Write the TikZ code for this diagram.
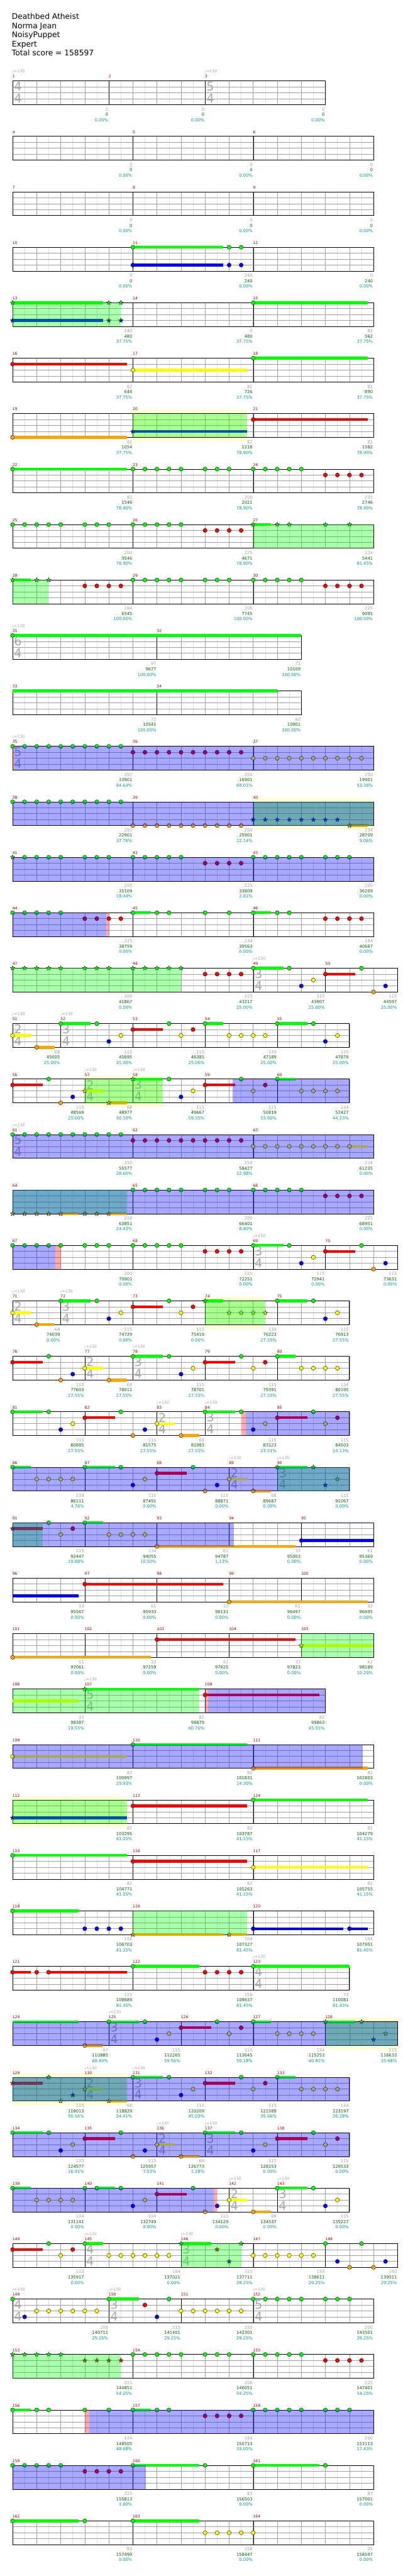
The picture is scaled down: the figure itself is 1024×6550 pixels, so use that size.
\documentclass[tikz,border=0pt]{standalone}
\usepackage{fontspec}
\setmainfont{DejaVu Sans}
\usepackage{tikz}
\usetikzlibrary{positioning}
\definecolor{mred}{HTML}{990000}
\definecolor{lblgray}{HTML}{A0A0A0}
\definecolor{totgreen}{HTML}{006400}
\definecolor{pctteal}{HTML}{009999}
\definecolor{gridlight}{HTML}{E0E0E0}
\definecolor{gridmid}{HTML}{A0A0A0}
\definecolor{tsgray}{HTML}{A8A8A8}
\definecolor{bandyellow}{HTML}{FFFFD4}
\definecolor{spgreen}{HTML}{00FF00}
\definecolor{spblue}{HTML}{0000FF}
\definecolor{sppink}{HTML}{FF0000}
\definecolor{ln0}{HTML}{00FF00}
\definecolor{ln1}{HTML}{FF0000}
\definecolor{ln2}{HTML}{FFFF00}
\definecolor{ln3}{HTML}{0000FF}
\definecolor{ln4}{HTML}{FFA500}

% staff grid, measure numbers and score lines of one row
\newcommand\staff[2]{%
  \pgfmathtruncatemacro\lastq{#1-1}%
  \foreach \q in {1,...,\lastq} \draw[eighth] (\q,0) -- (\q,4);
  \foreach \q in {2,4,...,#1} \draw[beat] (\q,0) -- (\q,4);
  \foreach \la in {1,2,3} \draw[lanel] (0,\la) -- (#1,\la);
  \foreach \mn/\ms/\me/\mg/\mc/\mp in {#2}{%
    \draw[barl] (\ms,0) -- (\ms,4);
    \node[mnum] (m\mn) at ([xshift=-0.5pt,yshift=7.6pt]\ms,0) {\mn};
    \node[pts] (g\mn) at ([xshift=-1.5pt,yshift=-76pt]\me,0) {\mg};
    \node[tot,below left=5.5pt and 0pt of g\mn.south east] (c\mn) {\mc};
    \node[pct,below left=5.5pt and 0pt of c\mn.south east] (p\mn) {\mp\%};
  }
  \draw[staffframe] (0,0) rectangle (#1,4);
}
\newcommand\tsig[4]{%
  \node[tsd] (tsa#1) at ([xshift=13.5pt]#2,0.96) {#3};
  \node[tsd] (tsb#1) at ([xshift=13.5pt]#2,2.95) {#4};}
\newcommand\bpm[2]{\node[bpmtext] (bpm#1) at ([xshift=-1.5pt,yshift=20.4pt]#2,0) {♩=130};}
% notes: lane, positions in eighths
\newcommand\gem[2]{\foreach \q in {#2} \draw[head,fill=ln#1] (\q,#1) circle[radius=5.2pt];}
\newcommand\sgem[2]{\foreach \q in {#2} \draw[head,fill=ln#1] (\q,#1)
  +(90:6pt) -- +(126:2.5pt) -- +(162:6pt) -- +(198:2.5pt) -- +(234:6pt) -- +(270:2.5pt)
  -- +(306:6pt) -- +(342:2.5pt) -- +(18:6pt) -- +(54:2.5pt) -- cycle;}
\newcommand\sus[3]{\draw[ln#1,line width=7pt] (#2,#1) -- (#3,#1);}
% shaded spans
\newcommand\spg[2]{\fill[spgreen,opacity=.333] (#1,0) rectangle (#2,4);}
\newcommand\spb[2]{\fill[spblue,opacity=.34] (#1,0) rectangle (#2,4);}
\newcommand\pinkbar[2]{\fill[sppink,opacity=.33] (#1,0) rectangle (#2,4);}
\newcommand\band[2]{\fill[bandyellow] ([yshift=10pt]#1,0) rectangle ([yshift=-10pt]#2,4);}

\begin{document}
\begin{tikzpicture}[x=1pt,y=-1pt,
  every node/.style={inner sep=0pt},
  staffrow/.style={shift={(32pt,{-205.7pt-141pt*#1})},x=30.6pt,y=-15.1pt},
  eighth/.style={draw=gridlight,line width=0.8pt},
  beat/.style={draw=gridmid,line width=0.8pt},
  lanel/.style={draw=gridmid,line width=1pt},
  barl/.style={draw=black,line width=0.7pt},
  staffframe/.style={draw=black,line width=1.1pt},
  head/.style={draw=black,line width=0.6pt},
  mnum/.style={text=mred,font=\fontsize{9.8}{10}\selectfont,anchor=base west},
  lbl/.style={font=\fontsize{10.7}{12}\selectfont,text height=7.8pt,text depth=0pt},
  pts/.style={lbl,text=lblgray,anchor=base east},
  tot/.style={lbl,text=totgreen},
  pct/.style={lbl,text=pctteal},
  tsd/.style={text=tsgray,font=\fontsize{31}{31}\selectfont},
  bpmtext/.style={text=lblgray,font=\fontsize{10}{10}\selectfont,anchor=base west},
  headline/.style={font=\fontsize{19.6}{23}\selectfont,anchor=base west}
]
\fill[white] (0,0) rectangle (1024,6550);
\useasboundingbox (0,0) rectangle (1024,6550);

\foreach \t [count=\hn] in {Deathbed Atheist,Norma Jean,NoisyPuppet,Expert,Total score = 158597}
  \node[headline] (hd\hn) at (30,26.2+23.1*\hn) {\t};

\begin{scope}[staffrow=0]
  \staff{26}{1/0/8/0/0/0.00,2/8/16/0/0/0.00,3/16/26/0/0/0.00}
  \tsig{1}{0}{4}{4}\tsig{3}{16}{5}{4}\bpm{1}{0}\bpm{3}{16}
\end{scope}
\begin{scope}[staffrow=1]
  \staff{30}{4/0/10/0/0/0.00,5/10/20/0/0/0.00,6/20/30/0/0/0.00}
\end{scope}
\begin{scope}[staffrow=2]
  \staff{30}{7/0/10/0/0/0.00,8/10/20/0/0/0.00,9/20/30/0/0/0.00}
\end{scope}
\begin{scope}[staffrow=3]
  \staff{30}{10/0/10/0/0/0.00,11/10/20/240/240/0.00,12/20/30/0/240/0.00}
  \sus{0}{10}{17.5}\sus{3}{10}{17.5}
  \gem{0}{10,18,19}\gem{3}{10,18,19}
\end{scope}
\begin{scope}[staffrow=4]
  \staff{30}{13/0/10/240/480/37.75,14/10/20/0/480/37.75,15/20/30/82/562/37.75}
  \sus{0}{0}{7.5}\sus{3}{0}{7.5}\sus{0}{20}{29.5}
  \sgem{0}{0,8,9}\sgem{3}{0,8,9}\gem{0}{20}
  \spg{0}{9}
\end{scope}
\begin{scope}[staffrow=5]
  \staff{30}{16/0/10/82/644/37.75,17/10/20/82/726/37.75,18/20/30/82/890/37.75}
  \sus{1}{0}{9.5}\sus{2}{10}{19.5}\sus{0}{20}{29.5}
  \gem{1}{0}\gem{2}{10}\gem{0}{20}
\end{scope}
\begin{scope}[staffrow=6]
  \band{10}{19.5}
  \staff{30}{19/0/10/82/1054/37.75,20/10/20/82/1218/78.90,21/20/30/82/1382/78.90}
  \sus{4}{0}{9.5}\sus{3}{10}{19.5}\sus{1}{20}{29.5}
  \gem{4}{0}\sgem{3}{10}\gem{1}{20}
  \spg{10}{19.5}
\end{scope}
\begin{scope}[staffrow=7]
  \staff{30}{22/0/10/82/1546/78.90,23/10/20/200/2021/78.90,24/20/30/225/2746/78.90}
  \sus{0}{0}{9.5}
  \gem{0}{0,10,11,12,13,14,16,17,18,20,21,22,23,24}\gem{1}{26,27,28,29}
\end{scope}
\begin{scope}[staffrow=8]
  \staff{30}{25/0/10/200/3546/78.90,26/10/20/225/4671/78.90,27/20/30/134/5441/81.45}
  \sus{0}{20}{21.5}
  \gem{0}{0,1,2,3,4,6,7,8,10,11,12,13,14}\gem{1}{16,17,18,19}\sgem{0}{20,22,23,26,28}
  \spg{20}{30}
\end{scope}
\begin{scope}[staffrow=9]
  \staff{30}{28/0/10/184/6545/100.00,29/10/20/200/7745/100.00,30/20/30/225/9095/100.00}
  \sus{0}{0}{1.5}
  \sgem{0}{0,2,3}\gem{1}{6,7,8,9,26,27,28,29}\gem{0}{10,11,12,13,14,16,17,18,20,21,22,23,24}
  \spg{0}{3}
\end{scope}
\begin{scope}[staffrow=10]
  \staff{24}{31/0/12/97/9677/100.00,32/12/24/72/10109/100.00}
  \tsig{31}{0}{6}{4}\bpm{31}{0}
  \sus{0}{0}{24}\gem{0}{0}
\end{scope}
\begin{scope}[staffrow=11]
  \staff{24}{33/0/12/72/10541/100.00,34/12/24/60/10901/100.00}
  \sus{0}{0}{22}
\end{scope}
\begin{scope}[staffrow=12]
  \staff{30}{35/0/10/250/13901/84.64,36/10/20/250/16901/69.01,37/20/30/250/19901/53.39}
  \tsig{35}{0}{5}{4}\bpm{35}{0}
  \gem{0}{0,...,9}\gem{1}{10,...,19}\gem{2}{20,...,29}
  \pinkbar{0}{0.13}\spb{0.13}{30}
\end{scope}
\begin{scope}[staffrow=13]
  \band{20}{30}
  \staff{30}{38/0/10/250/22901/37.76,39/10/20/250/25901/22.14,40/20/30/234/28709/9.06}
  \sus{4}{28}{29.5}
  \gem{0}{0,...,9}\gem{4}{10,...,19}\sgem{3}{20,...,27}\sgem{4}{28}
  \spg{20}{30}\spb{0}{30}
\end{scope}
\begin{scope}[staffrow=14]
  \staff{30}{41/0/10/200/31109/18.44,42/10/20/225/33809/2.81,43/20/30/200/36209/0.00}
  \sgem{0}{0}\gem{0}{1,2,3,4,6,7,8,10,11,12,13,14,20,21,22,23,24,26,27,28}\gem{1}{16,17,18,19}
  \spb{0}{30}
\end{scope}
\begin{scope}[staffrow=15]
  \staff{30}{44/0/10/225/38759/0.00,45/10/20/134/39563/0.00,46/20/30/184/40667/0.00}
  \sus{0}{10}{11.5}\sus{0}{20}{21.5}
  \gem{0}{0,1,2,3,4,10,12,13,16,18,20,22,23}\gem{1}{6,7,8,9,26,27,28,29}
  \spb{0}{7.78}\pinkbar{7.78}{8}
\end{scope}
\begin{scope}[staffrow=16]
  \staff{32}{47/0/10/200/41867/0.00,48/10/20/225/43217/25.00,49/20/26/115/43907/25.00,50/26/32/115/44597/25.00}
  \tsig{49}{20}{3}{4}\bpm{49}{20}
  \sus{0}{20}{22.5}\sus{1}{26}{28.5}
  \sgem{0}{0,1,2,3,4,6,7,8,10,11,12,13,14}\gem{1}{16,17,18,19,26}\gem{0}{20,23,29}
  \gem{3}{24,31}\gem{2}{25}\gem{4}{30}
  \spg{0}{14}
\end{scope}
\begin{scope}[staffrow=17]
  \staff{28}{51/0/4/68/45005/25.00,52/4/10/115/45695/25.00,53/10/16/115/46385/25.00,54/16/22/134/47189/25.00,55/22/28/115/47879/25.00}
  \tsig{51}{0}{2}{4}\tsig{52}{4}{3}{4}\bpm{51}{0}\bpm{52}{4}
  \sus{2}{0}{1.5}\sus{4}{2}{3.5}\sus{0}{4}{6.5}\sus{1}{10}{12.5}\sus{0}{16}{17.5}\sus{0}{22}{24.5}
  \gem{2}{0,9,14,18,19,20,21,27}\gem{4}{2}\gem{0}{4,7,13,16,22,25}\gem{3}{8,26}\gem{1}{10,15}
\end{scope}
\begin{scope}[staffrow=18]
  \band{6}{12.5}
  \staff{28}{56/0/6/115/48569/25.00,57/6/10/68/48977/30.10,58/10/16/115/49667/59.35,59/16/22/115/50819/53.60,60/22/28/134/52427/44.23}
  \tsig{57}{6}{2}{4}\tsig{58}{10}{3}{4}\bpm{57}{6}\bpm{58}{10}
  \sus{1}{0}{2.5}\sus{2}{6}{7.5}\sus{4}{8}{9.5}\sus{0}{10}{12.5}\sus{1}{16}{18.5}\sus{0}{22}{23.5}
  \gem{1}{0,16,21}\gem{0}{3,13,19,22}\gem{4}{4}\gem{3}{5,14}\sgem{2}{6}\sgem{4}{8}\sgem{0}{10}
  \gem{2}{15,20,24,25,26,27}
  \spg{6}{12.5}\spb{18.3}{28}
\end{scope}
\begin{scope}[staffrow=19]
  \staff{30}{61/0/10/250/55577/28.60,62/10/20/250/58427/12.98,63/20/30/234/61235/0.00}
  \tsig{61}{0}{5}{4}\bpm{61}{0}
  \sus{2}{28}{29.5}
  \gem{0}{0,...,9}\gem{1}{10,...,19}\gem{2}{20,...,28}
  \spb{0}{30}
\end{scope}
\begin{scope}[staffrow=20]
  \staff{30}{64/0/10/218/63851/24.43,65/10/20/200/66401/8.80,66/20/30/225/68951/0.00}
  \sus{4}{4}{5.5}\sus{4}{8}{9.5}
  \sgem{4}{0,1,2,3,4,6,7,8}\gem{0}{10,11,12,13,14,16,17,18,20,21,22,23,24}\gem{1}{26,27,28,29}
  \spg{0}{9.5}\spb{0}{30}
\end{scope}
\begin{scope}[staffrow=21]
  \staff{32}{67/0/10/200/70901/0.00,68/10/20/225/72251/0.00,69/20/26/115/72941/0.00,70/26/32/115/73631/0.00}
  \tsig{69}{20}{3}{4}\bpm{69}{20}
  \sus{0}{20}{22.5}\sus{1}{26}{28.5}
  \gem{0}{0,1,2,3,4,6,7,8,10,11,12,13,14,20,23,29}\gem{1}{16,17,18,19,26}\gem{3}{24,31}\gem{2}{25}\gem{4}{30}
  \spb{0}{3.57}\pinkbar{3.57}{4}
\end{scope}
\begin{scope}[staffrow=22]
  \band{16}{21}
  \staff{28}{71/0/4/68/74039/0.00,72/4/10/115/74729/0.00,73/10/16/115/75419/0.00,74/16/22/134/76223/27.55,75/22/28/115/76913/27.55}
  \tsig{71}{0}{2}{4}\tsig{72}{4}{3}{4}\bpm{71}{0}\bpm{72}{4}
  \sus{2}{0}{1.5}\sus{4}{2}{3.5}\sus{0}{4}{6.5}\sus{1}{10}{12.5}\sus{0}{16}{17.5}\sus{0}{22}{24.5}
  \gem{2}{0,9,14,27}\gem{4}{2}\gem{0}{4,7,13,22,25}\gem{3}{8,26}\gem{1}{10,15}\sgem{0}{16}\sgem{2}{18,19,20,21}
  \spg{16}{21}
\end{scope}
\begin{scope}[staffrow=23]
  \staff{28}{76/0/6/115/77603/27.55,77/6/10/68/78011/27.55,78/10/16/115/78701/27.55,79/16/22/115/79391/27.55,80/22/28/134/80195/27.55}
  \tsig{77}{6}{2}{4}\tsig{78}{10}{3}{4}\bpm{77}{6}\bpm{78}{10}
  \sus{1}{0}{2.5}\sus{2}{6}{7.5}\sus{4}{8}{9.5}\sus{0}{10}{12.5}\sus{1}{16}{18.5}\sus{0}{22}{23.5}
  \gem{1}{0,16,21}\gem{0}{3,10,13,19,22}\gem{4}{4,8}\gem{3}{5,14}\gem{2}{6,15,20,24,25,26,27}
\end{scope}
\begin{scope}[staffrow=24]
  \staff{28}{81/0/6/115/80885/27.55,82/6/12/115/81575/27.55,83/12/16/68/81983/27.55,84/16/22/115/83123/23.51,85/22/28/115/84503/14.13}
  \tsig{83}{12}{2}{4}\tsig{84}{16}{3}{4}\bpm{83}{12}\bpm{84}{16}
  \sus{0}{0}{2.5}\sus{1}{6}{8.5}\sus{2}{12}{13.5}\sus{4}{14}{15.5}\sus{0}{16}{18.5}\sus{1}{22}{24.5}
  \gem{0}{0,3,9,16,19,25}\gem{3}{4,11,20}\gem{2}{5,12,21,26}\gem{1}{6,22,27}\gem{4}{10,14}
  \pinkbar{19}{19.4}\spb{19.4}{28}
\end{scope}
\begin{scope}[staffrow=25]
  \staff{28}{86/0/6/134/86111/4.76,87/6/12/115/87491/0.00,88/12/18/115/88871/0.00,89/18/22/68/89687/0.00,90/22/28/115/91067/0.00}
  \tsig{89}{18}{2}{4}\tsig{90}{22}{3}{4}\bpm{89}{18}\bpm{90}{22}
  \sus{0}{0}{1.5}\sus{0}{6}{8.5}\sus{1}{12}{14.5}\sus{2}{18}{19.5}\sus{4}{20}{21.5}\sus{0}{22}{24.5}
  \gem{0}{0,6,9,15}\gem{2}{2,3,4,5,11,18}\gem{3}{10,17}\gem{1}{12}\gem{4}{16,20}
  \sgem{0}{22,25}\sgem{3}{26}\sgem{2}{27}
  \spg{22}{28}\spb{0}{28}
\end{scope}
\begin{scope}[staffrow=26]
  \staff{30}{91/0/6/115/92447/19.88,92/6/12/134/94055/10.50,93/12/18/61/94787/1.13,94/18/24/33/95003/0.00,95/24/30/61/95369/0.00}
  \sus{1}{0}{2.5}\sus{0}{6}{7.5}\sus{4}{12}{23.5}\sus{3}{24}{30}
  \sgem{1}{0}\gem{0}{3,6}\gem{2}{4,8,9,10,11}\gem{1}{5}\gem{4}{12}\gem{3}{24}
  \spg{0}{2.5}\spb{0}{18.4}
\end{scope}
\begin{scope}[staffrow=27]
  \staff{30}{96/0/6/33/95567/0.00,97/6/12/61/95933/0.00,98/12/18/33/96131/0.00,99/18/24/61/96497/0.00,100/24/30/33/96695/0.00}
  \sus{3}{0}{5.5}\sus{1}{6}{17.5}\sus{4}{18}{29.5}
  \gem{1}{6}\gem{4}{18}
\end{scope}
\begin{scope}[staffrow=28]
  \staff{30}{101/0/6/61/97061/0.00,102/6/12/33/97259/0.00,103/12/18/61/97625/0.00,104/18/24/33/97823/0.00,105/24/30/61/98189/10.20}
  \sus{4}{0}{11.5}\sus{1}{12}{23.5}\sus{2}{24}{30}
  \gem{4}{0}\gem{1}{12}\sgem{2}{24}
  \spg{24}{30}
\end{scope}
\begin{scope}[staffrow=29]
  \staff{26}{106/0/6/33/98387/19.55,107/6/16/82/98879/60.70,108/16/26/82/99863/45.55}
  \tsig{107}{6}{5}{4}\bpm{107}{6}
  \sus{2}{0}{5.5}\sus{0}{6}{15.5}\sus{1}{16}{25.5}
  \sgem{0}{6}\gem{1}{16}
  \spg{0}{15.5}\pinkbar{16}{16.26}\spb{16.26}{26}
\end{scope}
\begin{scope}[staffrow=30]
  \staff{30}{109/0/10/82/100997/29.93,110/10/20/82/101831/14.30,111/20/30/82/102803/0.00}
  \sus{2}{0}{9.5}\sus{0}{10}{19.5}\sus{4}{20}{29.5}
  \gem{2}{0}\gem{0}{10}\gem{4}{20}
  \spb{0}{29.1}
\end{scope}
\begin{scope}[staffrow=31]
  \band{0}{9.5}
  \staff{30}{112/0/10/82/103295/41.15,113/10/20/82/103787/41.15,114/20/30/82/104279/41.15}
  \sus{3}{0}{9.5}\sus{1}{10}{19.5}\sus{0}{20}{29.5}
  \sgem{3}{0}\gem{1}{10}\gem{0}{20}
  \spg{0}{9.5}
\end{scope}
\begin{scope}[staffrow=32]
  \staff{30}{115/0/10/82/104771/41.15,116/10/20/82/105263/41.15,117/20/30/82/105755/41.15}
  \sus{0}{0}{9.5}\sus{1}{10}{19.5}\sus{2}{20}{29.5}
  \gem{0}{0}\gem{1}{10}\gem{2}{20}
\end{scope}
\begin{scope}[staffrow=33]
  \staff{30}{118/0/10/158/106703/41.15,119/10/20/104/107327/81.45,120/20/30/104/107951/81.45}
  \sus{0}{0}{5.5}\sus{4}{10}{17.5}\sus{4}{18}{19.5}\sus{3}{20}{27.5}\sus{3}{28}{29.5}
  \gem{0}{0}\gem{3}{6,7,8,9,20,28}\sgem{4}{10,18}
  \spg{10}{19.5}
\end{scope}
\begin{scope}[staffrow=34]
  \staff{28}{121/0/10/123/108689/81.45,122/10/20/158/109637/81.45,123/20/28/73/110081/81.43}
  \tsig{123}{20}{4}{4}\bpm{123}{20}
  \sus{1}{0}{1.5}\sus{1}{3}{9.5}\sus{0}{10}{15.5}\sus{0}{20}{28}
  \gem{1}{0,2,3,16,17,18,19}\gem{0}{10,20}
\end{scope}
\begin{scope}[staffrow=35]
  \band{26}{32}
  \staff{32}{124/0/8/67/110885/68.93,125/8/14/115/112265/59.56,126/14/20/115/113645/50.18,127/20/26/134/115253/40.81,128/26/32/115/116633/35.68}
  \tsig{125}{8}{3}{4}\bpm{125}{8}
  \sus{0}{0}{5.5}\sus{4}{6}{7.5}\sus{0}{8}{10.5}\sus{1}{14}{16.5}\sus{0}{20}{21.5}\sus{0}{26}{28.5}
  \gem{4}{6}\gem{0}{8,11,17,20}\gem{3}{12}\gem{2}{13,18,22,23,24,25}\gem{1}{14,19}
  \sgem{0}{26,29}\sgem{3}{30}\sgem{2}{31}
  \spg{26}{32}\spb{0}{32}
\end{scope}
\begin{scope}[staffrow=36]
  \band{0}{9.5}
  \staff{28}{129/0/6/115/118013/30.56,130/6/10/68/118829/54.41,131/10/16/115/120209/45.03,132/16/22/115/121589/35.66,133/22/28/134/123197/26.28}
  \tsig{130}{6}{2}{4}\tsig{131}{10}{3}{4}\bpm{130}{6}\bpm{131}{10}
  \sus{1}{0}{2.5}\sus{2}{6}{7.5}\sus{4}{8}{9.5}\sus{0}{10}{12.5}\sus{1}{16}{18.5}\sus{0}{22}{23.5}
  \sgem{1}{0}\sgem{0}{3}\sgem{4}{4,8}\sgem{3}{5}\sgem{2}{6}
  \gem{0}{10,13,19,22}\gem{3}{14}\gem{2}{15,20,24,25,26,27}\gem{1}{16,21}
  \spg{0}{9.5}\spb{0}{28}
\end{scope}
\begin{scope}[staffrow=37]
  \staff{28}{134/0/6/115/124577/16.91,135/6/12/115/125957/7.53,136/12/16/68/126773/1.28,137/16/22/115/128153/0.00,138/22/28/115/129533/0.00}
  \tsig{136}{12}{2}{4}\tsig{137}{16}{3}{4}\bpm{136}{12}\bpm{137}{16}
  \sus{0}{0}{2.5}\sus{1}{6}{8.5}\sus{2}{12}{13.5}\sus{4}{14}{15.5}\sus{0}{16}{18.5}\sus{1}{22}{24.5}
  \gem{0}{0,3,9,16,19,25}\gem{3}{4,11,20}\gem{2}{5,12,21,26}\gem{1}{6,22,27}\gem{4}{10,14}
  \spb{0}{28}
\end{scope}
\begin{scope}[staffrow=38]
  \staff{28}{139/0/6/134/131141/0.00,140/6/12/134/132749/0.00,141/12/18/115/134129/0.00,142/18/22/68/134537/0.00,143/22/28/115/135227/0.00}
  \tsig{142}{18}{2}{4}\tsig{143}{22}{3}{4}\bpm{142}{18}\bpm{143}{22}
  \sus{0}{0}{1.5}\sus{0}{7}{8.5}\sus{1}{12}{14.5}\sus{2}{18}{19.5}\sus{4}{20}{21.5}\sus{0}{22}{24.5}
  \gem{0}{0,6,7,9,15,22,25}\gem{2}{2,3,4,5,11,18,27}\gem{3}{10,17,26}\gem{1}{12}\gem{4}{16,20}
  \spb{0}{16.7}\pinkbar{16.7}{17}
\end{scope}
\begin{scope}[staffrow=39]
  \staff{32}{144/0/6/115/135917/0.00,145/6/14/184/137021/0.00,146/14/20/115/137711/29.25,147/20/26/150/138611/29.25,148/26/32/150/139511/29.25}
  \tsig{145}{6}{4}{4}\tsig{146}{14}{3}{4}\bpm{145}{6}\bpm{146}{14}
  \sus{1}{0}{2.5}\sus{0}{6}{7.5}\sus{0}{14}{16.5}
  \gem{1}{0,5}\gem{0}{3,6,26,29}\gem{2}{4,8,9,10,11,12,13,20,21,22,23,24,25}
  \sgem{0}{14,19}\sgem{1}{17}\sgem{3}{18}\gem{3}{27,31}\gem{4}{28,30}
  \spg{14}{19}
\end{scope}
\begin{scope}[staffrow=40]
  \staff{30}{149/0/8/200/140711/29.25,150/8/14/115/141401/29.25,151/14/20/150/142301/29.25,152/20/30/200/143501/29.25}
  \tsig{149}{0}{4}{4}\tsig{150}{8}{3}{4}\tsig{152}{20}{5}{4}\bpm{149}{0}\bpm{150}{8}\bpm{152}{20}
  \sus{0}{8}{10.5}
  \gem{0}{0,8,13,20,21,22,23,24,26,27,28}\gem{3}{1,12}\gem{2}{2,3,4,5,6,7,14,15,16,17,18,19}\gem{1}{11}
\end{scope}
\begin{scope}[staffrow=41]
  \staff{30}{153/0/10/225/144851/54.25,154/10/20/200/146051/54.25,155/20/30/225/147401/54.25}
  \sgem{0}{0,1,2,3,4}\sgem{1}{6,7,8,9}\gem{0}{10,11,12,13,14,16,17,18,20,21,22,23,24}\gem{1}{26,27,28,29}
  \spg{0}{9}
\end{scope}
\begin{scope}[staffrow=42]
  \staff{30}{156/0/10/134/148505/48.68,157/10/20/184/150713/33.05,158/20/30/200/153113/17.43}
  \sus{0}{0}{1.5}\sus{0}{10}{11.5}
  \gem{0}{0,2,3,6,8,10,12,13,20,21,22,23,24,26,27,28}\gem{1}{16,17,18,19}
  \pinkbar{6}{6.4}\spb{6.4}{30}
\end{scope}
\begin{scope}[staffrow=43]
  \staff{30}{159/0/10/225/155813/1.80,160/10/20/83/156503/0.00,161/20/30/83/157001/0.00}
  \sus{0}{10}{15.5}\sus{0}{20}{25.5}
  \gem{0}{0,1,2,3,4,10,16,20,26}\gem{1}{6,7,8,9}
  \spb{0}{11.1}
\end{scope}
\begin{scope}[staffrow=44]
  \staff{30}{162/0/10/83/157499/0.00,163/10/20/158/158447/0.00,164/20/30/25/158597/0.00}
  \sus{0}{0}{5.5}\sus{0}{10}{15.5}
  \gem{0}{0,6,10}\gem{2}{16,17,18,19,20}
\end{scope}
\end{tikzpicture}
\end{document}
